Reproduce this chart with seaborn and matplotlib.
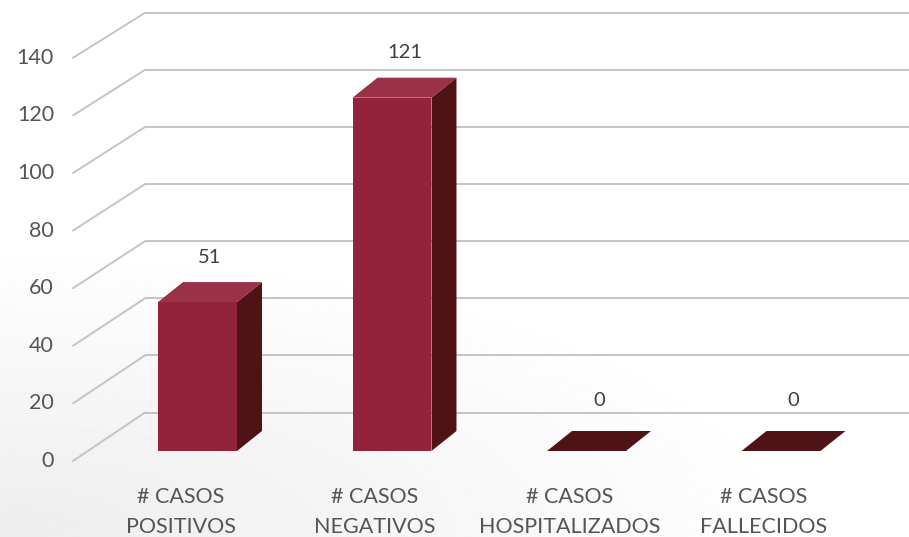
import numpy as np
import pandas as pd
import matplotlib
matplotlib.use("Agg")
import matplotlib.pyplot as plt
from matplotlib.patches import Polygon
import seaborn as sns

# ---- data ----
categories = ["# CASOS\nPOSITIVOS", "# CASOS\nNEGATIVOS", "# CASOS\nHOSPITALIZADOS", "# CASOS\nFALLECIDOS"]
values = [51, 121, 0, 0]
ticks = [0, 20, 40, 60, 80, 100, 120, 140]

sns.set_theme(style="white")
plt.rcParams['font.family'] = ['Lato', 'DejaVu Sans']

W, H = 909, 537
fig = plt.figure(figsize=(W / 100, H / 100), dpi=100)
fig.patch.set_facecolor("white")

# subtle background gradient (lower-left grey)
bg = fig.add_axes([0, 0, 1, 1], zorder=0)
yy, xx = np.mgrid[0:1:200j, 0:1:300j]
d = np.sqrt(((xx) / 0.9) ** 2 + ((yy) / 0.55) ** 2)
shade = np.clip(1 - d, 0, 1) * 0.07
bg.imshow(1 - shade, cmap="gray", vmin=0, vmax=1, origin="lower",
          extent=[0, 1, 0, 1], aspect="auto")
bg.set_axis_off()

ax = fig.add_axes([0, 0, 1, 1], zorder=1)
ax.patch.set_alpha(0)

# layout constants (pixel geometry)
X0, XS = 197.5, 194.5        # bar centre of first category, spacing in px
Y0, YS = 451.0, 2.92         # baseline px, px per unit
def px2x(p): return (p - X0) / XS
def px2y(p): return (Y0 - p) / YS

df = pd.DataFrame({"cat": categories, "val": values})
sns.barplot(data=df, x="cat", y="val", ax=ax, width=0.406,
            color="#93233a", saturation=1, edgecolor="none", linewidth=0, zorder=3)

ax.set_xlim(px2x(0), px2x(W))
ax.set_ylim(px2y(H), px2y(0))
ax.set_axis_off()

# grid: back plane lines + diagonal connectors from the front plane
grid_col = "#c4c4c4"
for t in ticks:
    yb = px2y(412.5 - 2.855 * t)
    yf = px2y(461.0 - 2.88 * t)
    ax.plot([px2x(145), px2x(W + 5)], [yb, yb], color=grid_col, lw=1.4, zorder=1, solid_capstyle="butt")
    ax.plot([px2x(73), px2x(145)], [yf, yb], color=grid_col, lw=1.4, zorder=1)
    ax.text(px2x(54), yf, str(t), ha="right", va="center", fontsize=15.5,
            color="#555555", zorder=5)

# 3-D faces
dx = 25 / XS
dy = 20 / YS
for p, v in zip(ax.patches[:len(values)], values):
    x0 = p.get_x(); w = p.get_width(); h = p.get_height()
    x1 = x0 + w
    side = Polygon([(x1, 0), (x1 + dx, dy), (x1 + dx, h + dy), (x1, h)],
                   closed=True, facecolor="#4f1315", edgecolor="none", zorder=2.5)
    ax.add_patch(side)
    topc = "#9b3146" if h > 0 else "#4f1315"
    top = Polygon([(x0, h), (x0 + dx, h + dy), (x1 + dx, h + dy), (x1, h)],
                  closed=True, facecolor=topc, edgecolor="none", zorder=4)
    ax.add_patch(top)
    off = 8.5 if h > 0 else 10.5
    ax.text(x0 + w / 2 + dx / 2, h + dy + off, f"{v:g}", ha="center", va="center",
            fontsize=14.5, color="#404040", zorder=5)

# category labels (two lines each)
for i, lab in enumerate(categories):
    for j, line in enumerate(lab.split("\n")):
        ax.text(i - 17 / XS, px2y(497 + 30 * j), line, ha="center", va="center",
                fontsize=15.5, color="#555555", zorder=5)

fig.savefig("out.png", dpi=100, facecolor="white")
